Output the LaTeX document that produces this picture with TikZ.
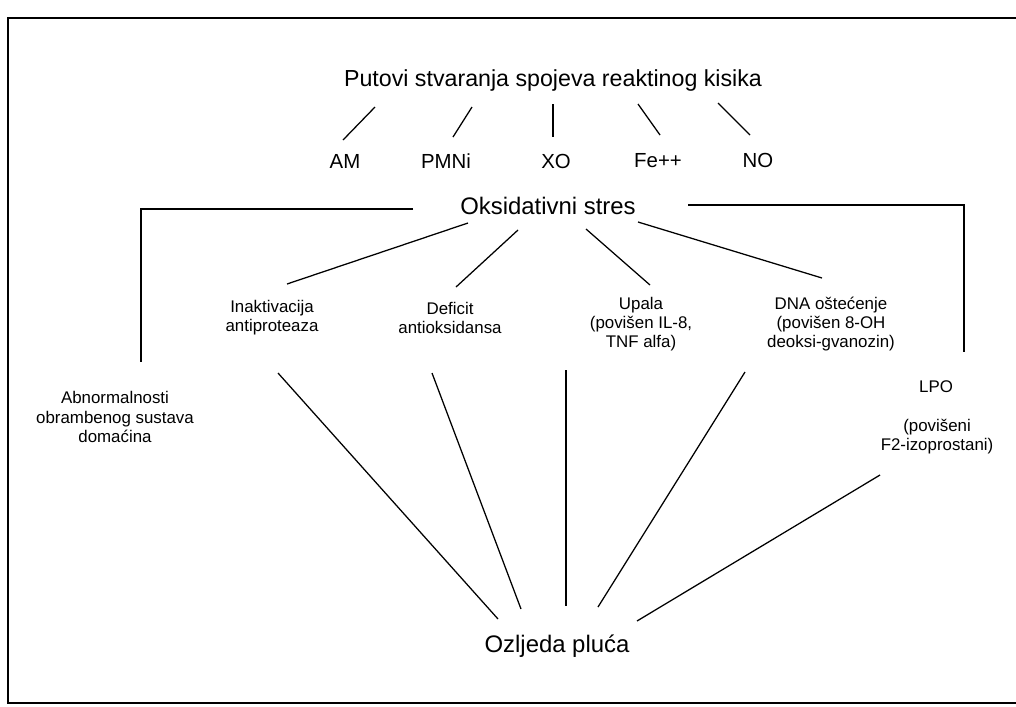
\documentclass[tikz,border=0pt]{standalone}
\usepackage{fontspec}
\setmainfont{Liberation Sans}
\begin{document}
\begin{tikzpicture}[x=0.025cm,y=-0.025cm,
  big/.style={font=\fontsize{16.5}{19}\selectfont, inner sep=0pt},
  mid/.style={font=\fontsize{14.5}{17}\selectfont, inner sep=0pt},
  lab/.style={font=\fontsize{12}{13.6}\selectfont, align=center, inner sep=0pt},
  conn/.style={draw, line width=0.9pt},
  frame/.style={draw, line width=1.4pt}]
\useasboundingbox (0,0) rectangle (1016,706);
\fill[white] (0,0) rectangle (1016,706);
% frame (open on the right)
\coordinate (fTR) at (1020,18);
\coordinate (fTL) at (8,18);
\coordinate (fBL) at (8,703);
\coordinate (fBR) at (1020,703);
\draw[frame] (fTR) -- (fTL) -- (fBL) -- (fBR);

% nodes
\node[big] (title) at (553,80) {Putovi stvaranja spojeva reaktinog kisika};
\node[mid] (am) at (345,161) {AM};
\node[mid] (pmni) at (446,161) {PMNi};
\node[mid] (xo) at (556,161) {XO};
\node[mid] (fe) at (658,161) {Fe++};
\node[mid] (no) at (758,160) {NO};
\node[font=\fontsize{17}{20}\selectfont, inner sep=0pt] (ox) at (548,206) {Oksidativni stres};
\node[lab] (abn) at (115,417) {Abnormalnosti\\obrambenog sustava\\domaćina};
\node[lab] (inak) at (272,318) {Inaktivacija\\antiproteaza};
\node[lab] (def) at (450,318) {Deficit\\antioksidansa};
\node[lab] (upa) at (641,324) {Upala\\(povišen IL-8,\\TNF alfa)};
\node[lab] (dna) at (831,324) {DNA oštećenje\\(povišen 8-OH\\deoksi-gvanozin)};
\node[lab] (lpo) at (936,387) {LPO};
\node[lab] (lpob) at (937,437) {(povišeni\\F2-izoprostani)};
\node[font=\fontsize{17}{20}\selectfont, inner sep=0pt] (oz) at (557,646) {Ozljeda pluća};

% connector end points
\coordinate (amA) at (375,107); \coordinate (amB) at (343,140);
\coordinate (pmA) at (472,107); \coordinate (pmB) at (453,137);
\coordinate (xoA) at (553,104); \coordinate (xoB) at (553,137);
\coordinate (feA) at (638,104); \coordinate (feB) at (660,135);
\coordinate (noA) at (718,103); \coordinate (noB) at (750,135);

\coordinate (oxL) at (413,209); \coordinate (abnC) at (141,209); \coordinate (abnT) at (141,362);
\coordinate (oxR) at (688,205); \coordinate (lpoC) at (964,205); \coordinate (lpoT) at (964,352);

\coordinate (o1) at (468,223); \coordinate (i1) at (287,284);
\coordinate (o2) at (518,230); \coordinate (d1) at (456,287);
\coordinate (o3) at (586,229); \coordinate (u1) at (650,285);
\coordinate (o4) at (638,222); \coordinate (n1) at (822,278);

\coordinate (i2) at (278,373); \coordinate (z1) at (498,619);
\coordinate (d2) at (432,373); \coordinate (z2) at (521,609);
\coordinate (u2) at (566,370); \coordinate (z3) at (566,606);
\coordinate (n2) at (745,372); \coordinate (z4) at (598,607);
\coordinate (l2) at (880,475); \coordinate (z5) at (637,621);

% connectors
\draw[conn] (amA) -- (amB);
\draw[conn] (pmA) -- (pmB);
\draw[conn] (xoA) -- (xoB);
\draw[conn] (feA) -- (feB);
\draw[conn] (noA) -- (noB);
\draw[conn] (oxL) -- (abnC) -- (abnT);
\draw[conn] (oxR) -- (lpoC) -- (lpoT);
\draw[conn] (o1) -- (i1);
\draw[conn] (o2) -- (d1);
\draw[conn] (o3) -- (u1);
\draw[conn] (o4) -- (n1);
\draw[conn] (i2) -- (z1);
\draw[conn] (d2) -- (z2);
\draw[conn] (u2) -- (z3);
\draw[conn] (n2) -- (z4);
\draw[conn] (l2) -- (z5);
\end{tikzpicture}
\end{document}
